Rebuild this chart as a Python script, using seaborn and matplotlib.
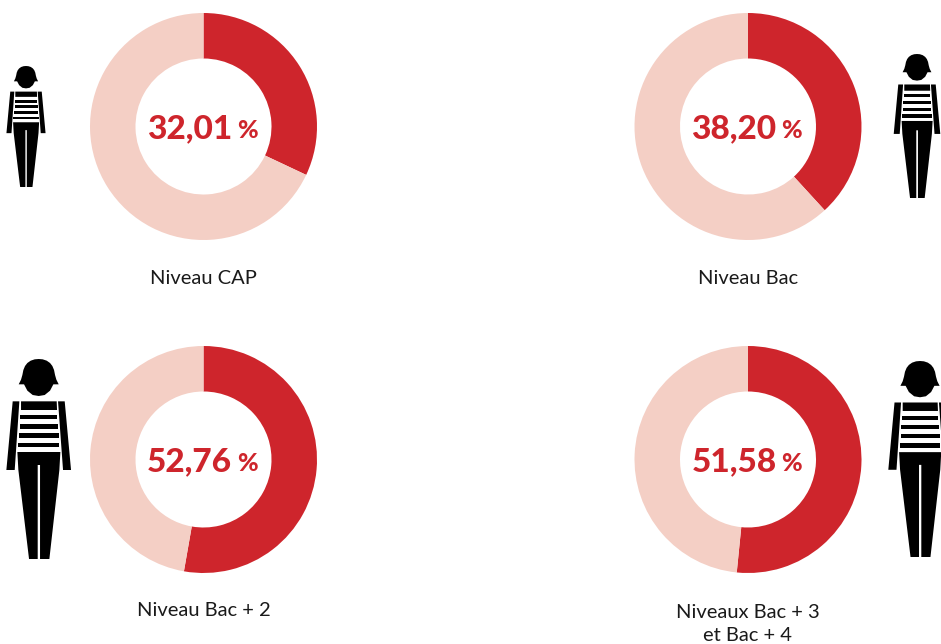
import matplotlib
matplotlib.use("Agg")
import matplotlib.pyplot as plt
from matplotlib.patches import Polygon
import seaborn as sns

sns.set_theme(style="white")
plt.rcParams['font.family'] = ['Lato', 'DejaVu Sans']

W, H = 941, 644
categories = ["Niveau CAP", "Niveau Bac", "Niveau Bac + 2", "Niveaux Bac + 3\net Bac + 4"]
shares = [32.01, 38.20, 52.76, 51.58]
share_labels = ["32,01", "38,20", "52,76", "51,58"]
RED, PALE = "#CE252C", "#F4CFC5"

# layout, in reference pixels
centres = [(203.5, 126.5), (748, 126.5), (203.5, 459.5), (748, 459.5)]
label_y = [278, 278, 611, 624]
people = [(26, 66, 121), (917, 54, 144), (38.7, 359, 200), (920, 361, 196)]
R = 113.5
R_IN = 68

# pictogram outline: x relative to axis of symmetry, y from top of a 600-unit figure
ICON = {
    "hair": [(0, 0), (12, 1), (24, 5), (34, 12), (41, 21), (46, 33), (49, 48), (53, 62), (60, 76),
             (44, 76), (34, 95), (18, 108), (0, 111), (-18, 108), (-34, 95), (-44, 76), (-60, 76),
             (-53, 62), (-49, 48), (-46, 33), (-41, 21), (-34, 12), (-24, 5), (-12, 1)],
    "arm_l": [(-78, 127), (-58, 127), (-72, 333), (-97, 333)],
    "arm_r": [(58, 127), (78, 127), (97, 333), (73, 333)],
    "s1": [(-53, 127), (54, 127), (55, 153), (-53, 153)],
    "s2": [(-55, 167), (56, 167), (56, 181), (-55, 181)],
    "s3": [(-57, 195), (58, 195), (58, 209), (-57, 209)],
    "s4": [(-59, 223), (60, 223), (60, 237), (-59, 237)],
    "s5": [(-62, 251), (62, 251), (62, 265), (-62, 265)],
    "body": [(-64, 279), (65, 279), (62, 333), (32, 600), (4, 600), (4, 318), (-3, 318),
             (-3, 600), (-29, 600), (-61, 333)],
}

fig = plt.figure(figsize=(W / 100, H / 100), dpi=100, facecolor="white")

# overlay for the pictograms and captions, in pixels
bg = fig.add_axes([0, 0, 1, 1])
bg.set_xlim(0, W)
bg.set_ylim(H, 0)
bg.axis("off")

for (cx, top, h) in people:
    k = h / 600
    for pts in ICON.values():
        bg.add_patch(Polygon([(cx + x * k, top + y * k) for x, y in pts],
                             closed=True, fc="black", ec="none"))

for (cx, _), y, label in zip(centres, label_y, categories):
    bg.text(cx, y, label, ha="center", va="center", fontsize=14.5, color="#1a1a1a",
            linespacing=1.42)

for (cx, cy), share, text in zip(centres, shares, share_labels):
    ax = fig.add_axes([(cx - R) / W, 1 - (cy + R) / H, 2 * R / W, 2 * R / H])
    ax.pie([share, 100 - share], colors=[RED, PALE], startangle=90, counterclock=False,
           radius=1, wedgeprops=dict(width=1 - R_IN / R, linewidth=0))
    ax.set_xlim(-1, 1)
    ax.set_ylim(-1, 1)
    ax.text(28.5 / R, -2 / R, text, ha="right", va="center", color=RED, fontsize=24, fontweight="black")
    ax.text(33.5 / R, -4 / R, "%", ha="left", va="center", color=RED, fontsize=18, fontweight="black")

fig.savefig("out.png", dpi=100)
